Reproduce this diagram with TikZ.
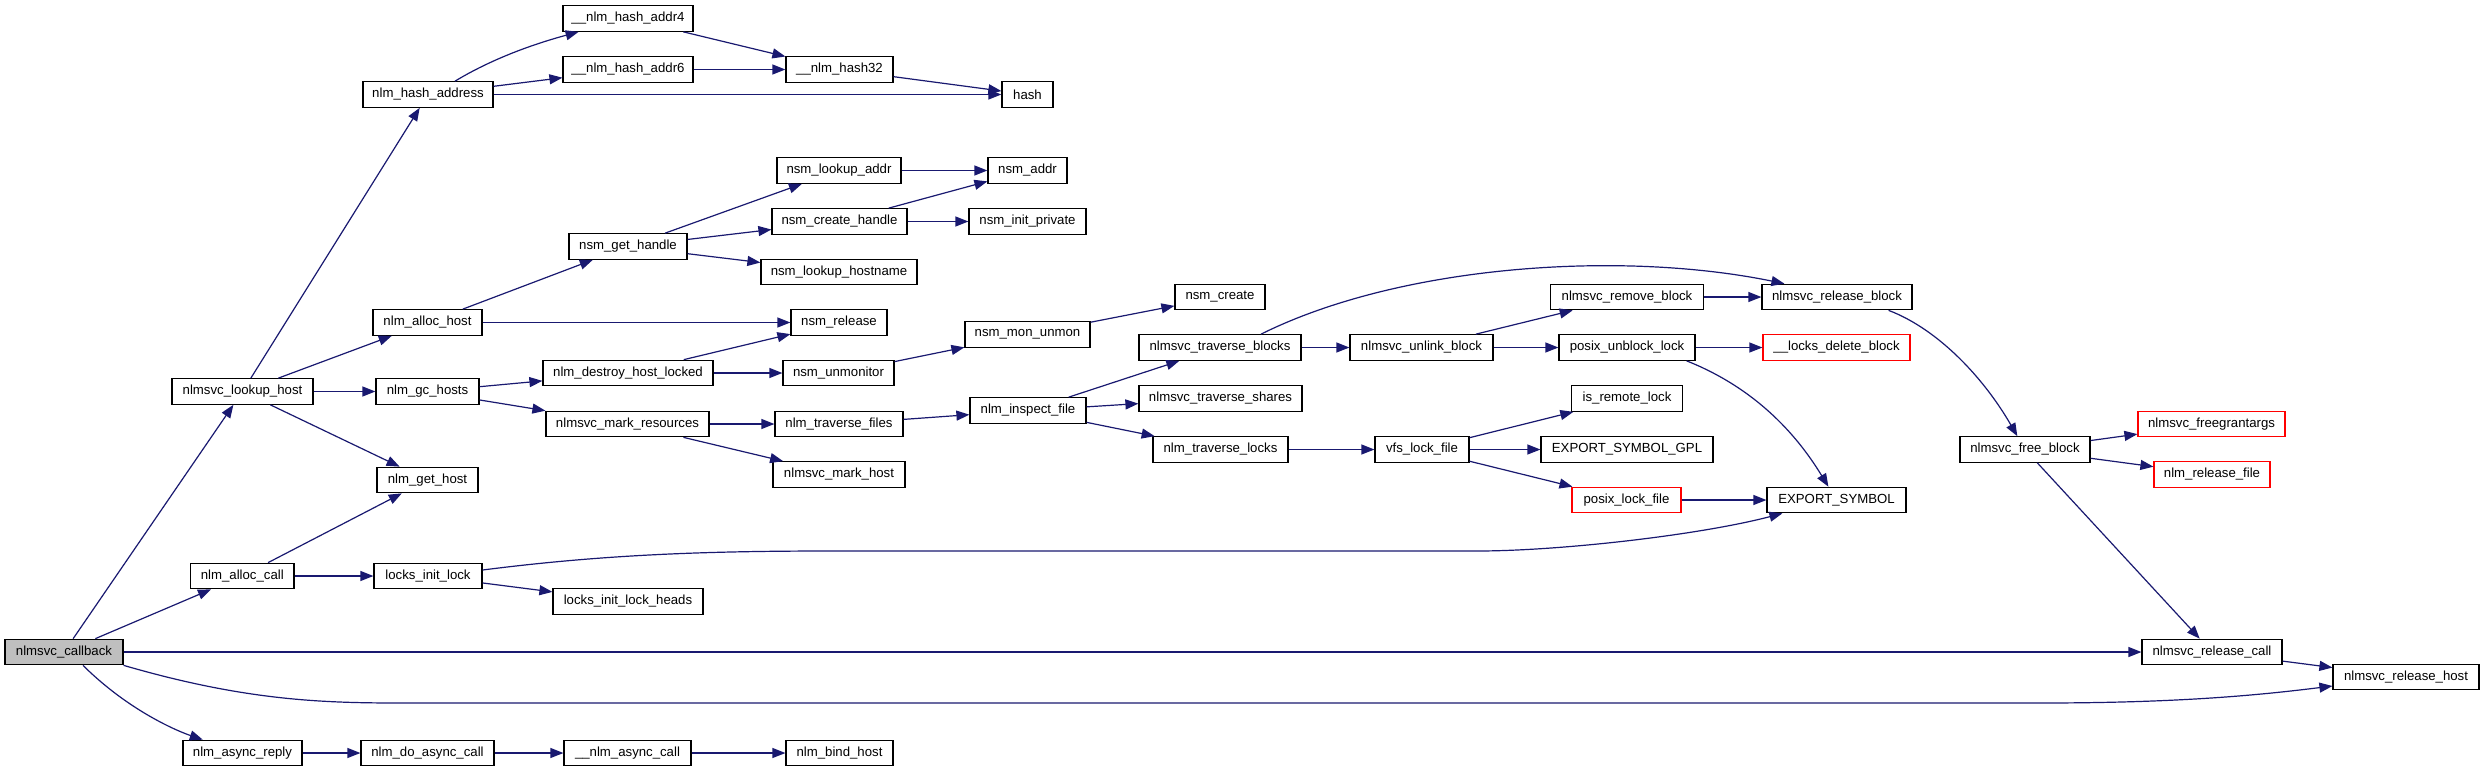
\documentclass[tikz,border=0pt]{standalone}
\usepackage{fontspec}
\setmainfont{Liberation Sans}
\usetikzlibrary{arrows.meta}
\definecolor{edgec}{HTML}{191970}
\definecolor{rootfill}{HTML}{BFBFBF}
\tikzset{
 box/.style={draw=black, line width=1.2pt, fill=white, minimum height=25.5pt, inner sep=0pt, font=\fontsize{13.2}{16}\selectfont, text=black},
 redbox/.style={box, draw=red},
 rootbox/.style={box, fill=rootfill},
 edge/.style={draw=edgec, line width=1.2pt, -{Triangle[length=13pt,width=10pt]}}
}
\begin{document}
\begin{tikzpicture}[x=1pt,y=-1pt]
\useasboundingbox[fill=white] (0,0) rectangle (2484,772);
% column 0
\node[rootbox, minimum width=118pt] (cb) at (64,652) {nlmsvc\_callback};
% column 1
\node[box, minimum width=141pt] (lh) at (242.5,391.5) {nlmsvc\_lookup\_host};
\node[box, minimum width=103.5pt] (ac) at (242.3,576) {nlm\_alloc\_call};
\node[box, minimum width=119pt] (ar) at (242.5,753) {nlm\_async\_reply};
% column 2
\node[box, minimum width=130pt] (ha) at (428,94.5) {nlm\_hash\_address};
\node[box, minimum width=109pt] (ah) at (427.5,322.5) {nlm\_alloc\_host};
\node[box, minimum width=103pt] (gc) at (427.5,391.5) {nlm\_gc\_hosts};
\node[box, minimum width=101pt] (gh) at (427.5,480) {nlm\_get\_host};
\node[box, minimum width=108pt] (lil) at (428,576) {locks\_init\_lock};
\node[box, minimum width=133pt] (dac) at (427.5,753) {nlm\_do\_async\_call};
% column 3
\node[box, minimum width=130pt] (h4) at (628,18.5) {\_\_nlm\_hash\_addr4};
\node[box, minimum width=130pt] (h6) at (628,69.5) {\_\_nlm\_hash\_addr6};
\node[box, minimum width=118pt] (gth) at (628,246.5) {nsm\_get\_handle};
\node[box, minimum width=170pt] (dhl) at (628,373) {nlm\_destroy\_host\_locked};
\node[box, minimum width=163pt] (mr) at (627.5,424) {nlmsvc\_mark\_resources};
\node[box, minimum width=150pt] (lilh) at (628,601.5) {locks\_init\_lock\_heads};
\node[box, minimum width=127pt] (nac) at (627.5,753) {\_\_nlm\_async\_call};
% column 4
\node[box, minimum width=107pt] (h32) at (839.5,69.5) {\_\_nlm\_hash32};
\node[box, minimum width=124pt] (nla) at (839,170.5) {nsm\_lookup\_addr};
\node[box, minimum width=135pt] (nch) at (839.5,221.5) {nsm\_create\_handle};
\node[box, minimum width=156pt] (nlh) at (839,272) {nsm\_lookup\_hostname};
\node[box, minimum width=96pt] (nr) at (839,322.5) {nsm\_release};
\node[box, minimum width=111pt] (nu) at (838.5,373) {nsm\_unmonitor};
\node[box, minimum width=128pt] (ntf) at (839,424) {nlm\_traverse\_files};
\node[box, minimum width=132pt] (nmh) at (839,474.5) {nlmsvc\_mark\_host};
\node[box, minimum width=107pt] (nbh) at (839.5,753) {nlm\_bind\_host};
% column 5
\node[box, minimum width=51pt] (hash) at (1027.5,94.5) {hash};
\node[box, minimum width=79pt] (naddr) at (1027.5,170.5) {nsm\_addr};
\node[box, minimum width=117pt] (nip) at (1027.5,221.5) {nsm\_init\_private};
\node[box, minimum width=125pt] (nmu) at (1027.5,334.5) {nsm\_mon\_unmon};
\node[box, minimum width=116pt] (nif) at (1028,410.5) {nlm\_inspect\_file};
% column 6
\node[box, minimum width=90pt] (nc) at (1220,297) {nsm\_create};
\node[box, minimum width=162pt] (tb) at (1220,347.5) {nlmsvc\_traverse\_blocks};
\node[box, minimum width=163pt] (ts) at (1220.5,398.5) {nlmsvc\_traverse\_shares};
\node[box, minimum width=135pt] (tl) at (1220.5,449.5) {nlm\_traverse\_locks};
% column 7
\node[box, minimum width=143pt] (ub) at (1421.5,347.5) {nlmsvc\_unlink\_block};
\node[box, minimum width=94pt] (vfs) at (1422,449.5) {vfs\_lock\_file};
% column 8
\node[box, minimum width=152.5pt] (rmb) at (1627,297) {nlmsvc\_remove\_block};
\node[box, minimum width=136pt] (pu) at (1627,347.5) {posix\_unblock\_lock};
\node[box, minimum width=111.5pt] (irl) at (1627,398.5) {is\_remote\_lock};
\node[box, minimum width=172pt] (esg) at (1627,449.5) {EXPORT\_SYMBOL\_GPL};
\node[redbox, minimum width=109pt] (plf) at (1626.5,500) {posix\_lock\_file};
% column 9
\node[box, minimum width=150pt] (rb) at (1837,297) {nlmsvc\_release\_block};
\node[redbox, minimum width=147pt] (ldb) at (1836.5,347.5) {\_\_locks\_delete\_block};
\node[box, minimum width=139pt] (es) at (1836.5,500) {EXPORT\_SYMBOL};
% column 10
\node[box, minimum width=130pt] (fb) at (2025,449.5) {nlmsvc\_free\_block};
% column 11
\node[redbox, minimum width=147pt] (fga) at (2211.5,424) {nlmsvc\_freegrantargs};
\node[redbox, minimum width=116pt] (nrf) at (2212,474.5) {nlm\_release\_file};
\node[box, minimum width=140pt] (rc) at (2212,652) {nlmsvc\_release\_call};
% column 12
\node[box, minimum width=146pt] (rh) at (2406,677) {nlmsvc\_release\_host};

% edges from nlmsvc_callback
\draw[edge] (cb) -- (lh);
\draw[edge] (cb) -- (ac);
\draw[edge] (cb) -- (rc);
\draw[edge] (cb.south east) .. controls (260,705) and (340,703) .. (430,703) -- (2040,703) .. controls (2180,703) and (2260,695) .. ([yshift=-9pt]rh.west);
\draw[edge] ([xshift=19pt]cb.south) .. controls (130,712) and (180,732) .. (ar);
% nlmsvc_lookup_host
\draw[edge] (lh) -- (ha);
\draw[edge] (lh) -- (ah);
\draw[edge] (lh) -- (gc);
\draw[edge] (lh) -- (gh);
% nlm_hash_address
\draw[edge] ([xshift=27pt]ha.north) .. controls (490,60) and (530,45) .. (h4);
\draw[edge] (ha) -- (h6);
\draw[edge] (ha) -- (hash);
\draw[edge] (h4) -- (h32);
\draw[edge] (h6) -- (h32);
\draw[edge] (h32) -- (hash);
% nlm_alloc_host
\draw[edge] (ah) -- (gth);
\draw[edge] (ah) -- (nr);
\draw[edge] (gth) -- (nla);
\draw[edge] (gth) -- (nch);
\draw[edge] (gth) -- (nlh);
\draw[edge] (nla) -- (naddr);
\draw[edge] (nch) -- (naddr);
\draw[edge] (nch) -- (nip);
% nlm_gc_hosts
\draw[edge] (gc) -- (dhl);
\draw[edge] (gc) -- (mr);
\draw[edge] (dhl) -- (nr);
\draw[edge] (dhl) -- (nu);
\draw[edge] (nu) -- (nmu);
\draw[edge] (nmu) -- (nc);
\draw[edge] (mr) -- (ntf);
\draw[edge] (mr) -- (nmh);
\draw[edge] (ntf) -- (nif);
\draw[edge] (nif) -- (tb);
\draw[edge] (nif) -- (ts);
\draw[edge] (nif) -- (tl);
% traverse blocks
\draw[edge] ([xshift=41pt]tb.north) .. controls (1400,265) and (1620,250) .. ([xshift=23pt]rb.north west);
\draw[edge] (tb) -- (ub);
\draw[edge] (ub) -- (rmb);
\draw[edge] (ub) -- (pu);
\draw[edge] (rmb) -- (rb);
\draw[edge] (pu) -- (ldb);
\draw[edge] ([xshift=-9pt]pu.south east) .. controls (1760,390) and (1800,440) .. (es);
% traverse locks
\draw[edge] (tl) -- (vfs);
\draw[edge] (vfs) -- (irl);
\draw[edge] (vfs) -- (esg);
\draw[edge] (vfs) -- (plf);
\draw[edge] (plf) -- (es);
% release block
\draw[edge] ([xshift=-24pt]rb.south east) .. controls (1940,330) and (1985,380) .. (fb);
\draw[edge] (fb) -- (fga);
\draw[edge] (fb) -- (nrf);
\draw[edge] (fb) -- (rc);
\draw[edge] (rc) -- (rh);
% nlm_alloc_call
\draw[edge] (ac) -- (gh);
\draw[edge] (ac) -- (lil);
\draw[edge] (lil) -- (lilh);
\draw[edge] ([yshift=6pt]lil.east) .. controls (600,555) and (700,551) .. (830,551) -- (1477,551) .. controls (1560,551) and (1700,535) .. ([xshift=16pt]es.south west);
% async
\draw[edge] (ar) -- (dac);
\draw[edge] (dac) -- (nac);
\draw[edge] (nac) -- (nbh);
\end{tikzpicture}
\end{document}
